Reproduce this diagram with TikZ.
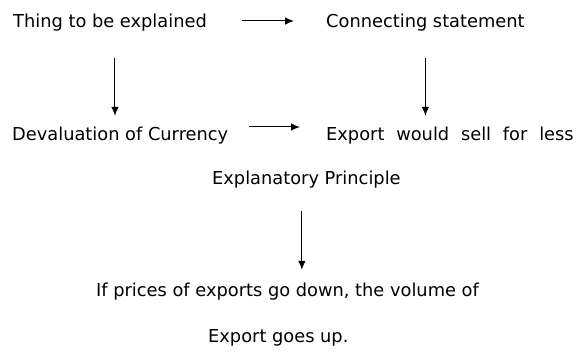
\documentclass[tikz,border=0pt]{standalone}
\usepackage{fontspec}
\setmainfont{DejaVu Sans}
\usetikzlibrary{arrows.meta}

\begin{document}
\begin{tikzpicture}[x=1pt,y=-1pt,
		lbl/.style={anchor=base west, inner sep=0, text height=13pt, text depth=4pt, font=\fontsize{17.8}{21}\selectfont},
		arr/.style={-{Latex[length=9pt,width=7.5pt]}, line width=1pt}]
	\useasboundingbox (0,0) rectangle (577,352);
	% top row
	\node [lbl] (thing) at (13,28) {Thing to be explained};
	\node [lbl] (connect) at (326,28) {Connecting statement};
	% second row
	\node [lbl] (deval) at (12,141) {Devaluation of Currency};
	\node [lbl] (export) at (326,141) {Export\hspace{11.8pt}would\hspace{11.8pt}sell\hspace{11.8pt}for\hspace{11.8pt}less};
	% principle
	\node [lbl] (principle) at (212,185) {Explanatory Principle};
	\node [lbl] (ifprices) at (96,296) {If prices of exports go down, the volume of};
	\node [lbl] (goesup) at (208,342) {Export goes up.};
	% arrows
	\draw [arr, shorten <=35pt, shorten >=32pt] ([yshift=2.5pt]thing.east) -- ([yshift=2.5pt]connect.west);
	\draw [arr, shorten <=21pt, shorten >=26pt] ([yshift=9.5pt]deval.east) -- ([yshift=9.5pt]export.west);
	\draw [arr, shorten <=26pt, shorten >=12pt] ([xshift=5pt]thing.south) -- ([xshift=5pt]thing.south |- deval.north);
	\draw [arr, shorten <=26pt, shorten >=12pt] (connect.south) -- (connect.south |- export.north);
	\draw [arr, shorten <=22pt, shorten >=13pt] ([xshift=-4.5pt]principle.south) -- ([xshift=-4.5pt]principle.south |- ifprices.north);
\end{tikzpicture}
\end{document}
